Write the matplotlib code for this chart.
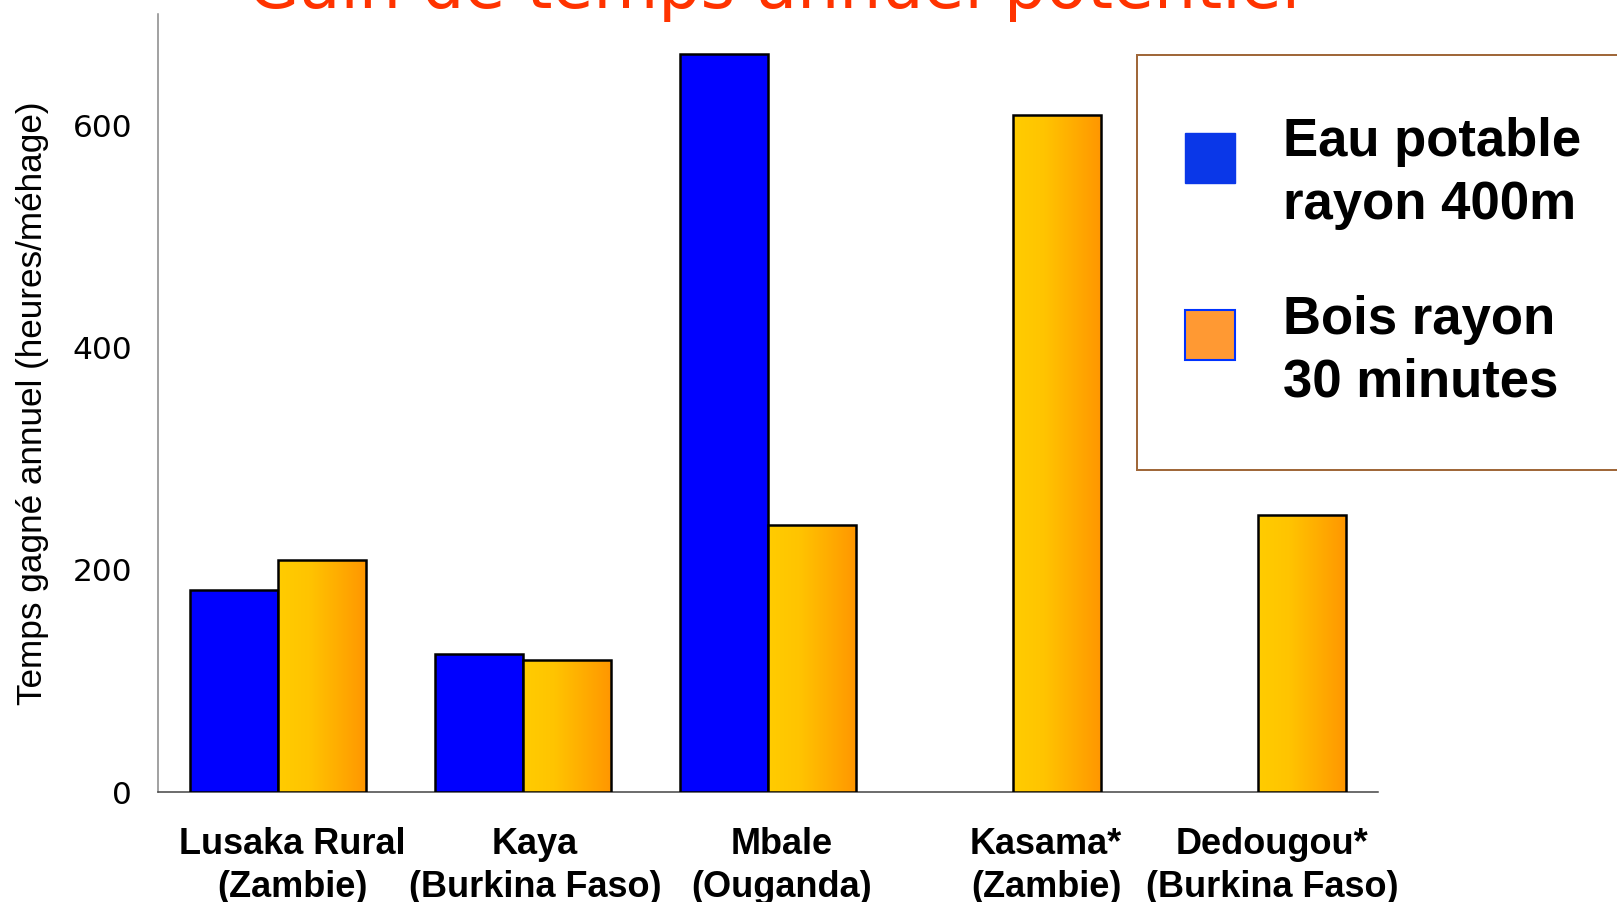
import numpy as np
import matplotlib
matplotlib.use("Agg")
import matplotlib.pyplot as plt
from matplotlib.patches import Patch, Rectangle
from matplotlib.legend_handler import HandlerPatch
from matplotlib.colors import LinearSegmentedColormap
import matplotlib.transforms as mtransforms

# ---------------- data ----------------
categories = ["Lusaka Rural\n(Zambie)", "Kaya\n(Burkina Faso)", "Mbale\n(Ouganda)",
              "Kasama*\n(Zambie)", "Dedougou*\n(Burkina Faso)"]
eau_potable = [182, 124, 664, np.nan, np.nan]
bois = [209, 119, 240, 609, 249]
series_labels = ["Eau potable\nrayon 400m", "Bois rayon\n30 minutes"]
yticks = [0, 200, 400, 600]
title = "Gain de temps annuel potentiel"
ylabel = "Temps gagné annuel (heures/méhage)"

# ---------------- figure ----------------
W, H, DPI = 1617, 902, 100
fig = plt.figure(figsize=(W / DPI, H / DPI), dpi=DPI)
fig.patch.set_facecolor("white")
ax = fig.add_axes([158 / W, 1 - 792 / H, (1378 - 158) / W, (792 - 14.4) / H])

x = np.arange(len(categories))
bw = 0.36
blue = "#0000FF"

eau = np.array(eau_potable, dtype=float)
mask = ~np.isnan(eau)
ax.bar(x[mask] - bw / 2, eau[mask], width=bw, color=blue, edgecolor="black",
       linewidth=1.8, zorder=3)

obars = ax.bar(x + bw / 2, bois, width=bw, facecolor="none", edgecolor="black",
               linewidth=1.8, zorder=4)

cmap = LinearSegmentedColormap.from_list(
    "grad", [(0.0, "#FFCC00"), (0.35, "#FFC400"), (1.0, "#FF9600")])
grad = np.linspace(0, 1, 256).reshape(1, -1)
for b in obars:
    x0, y0 = b.get_x(), b.get_y()
    im = ax.imshow(grad, cmap=cmap, aspect="auto", interpolation="bicubic",
                   extent=(x0, x0 + b.get_width(), y0, y0 + b.get_height()),
                   zorder=3.5)
    im.set_clip_path(b)

ax.set_xlim(-0.49, 4.49)
ax.set_ylim(0, 700)
ax.set_aspect("auto")

# spines
for s in ["top", "right"]:
    ax.spines[s].set_visible(False)
ax.spines["left"].set_color("#888888")
ax.spines["left"].set_linewidth(1.1)
ax.spines["bottom"].set_color("#444444")
ax.spines["bottom"].set_linewidth(1.1)

# y ticks
ax.set_yticks(yticks)
ax.set_yticklabels([str(v) for v in yticks], fontsize=22.5,
                   fontfamily="DejaVu Sans", color="black")
ax.tick_params(axis="y", length=0, pad=18.7)

# x ticks
ax.set_xticks(x)
ax.set_xticklabels(categories, fontsize=26, fontweight="bold",
                   fontfamily="Liberation Sans", linespacing=1.3)
ax.tick_params(axis="x", length=0, pad=25)
label_shift_px = [14, 12, 14, 33, 14]
for lab, dx in zip(ax.get_xticklabels(), label_shift_px):
    off = mtransforms.ScaledTranslation(dx / DPI, 0, fig.dpi_scale_trans)
    lab.set_transform(lab.get_transform() + off)

# y label
ax.set_ylabel(ylabel, fontsize=25.3, fontfamily="Liberation Sans")
ax.yaxis.set_label_coords(-0.0893, 0.5)

# title (cut off at top as in the reference)
fig.text(774 / W, 1 - 8 / H, title, color="#FF3300", fontsize=48,
         fontfamily="DejaVu Sans", ha="center", va="baseline")

# legend
def square_patch(legend, orig_handle, xdescent, ydescent, width, height, fontsize):
    return Rectangle((-xdescent - 10.3, 7.5), 36, 36)

handles = [Patch(facecolor="#0A37E8", edgecolor="#0A37E8", linewidth=1),
           Patch(facecolor="#FF9933", edgecolor="#0033FF", linewidth=1.5)]
leg = ax.legend(handles, series_labels, loc="upper left",
                bbox_to_anchor=(1137.3 / W, 1 - 55 / H),
                bbox_transform=fig.transFigure, borderaxespad=0,
                prop={"family": "Liberation Sans", "weight": "bold", "size": 38},
                borderpad=1.18, handlelength=1.0, handleheight=0.7,
                handletextpad=0.587, labelspacing=1.22, fancybox=False,
                framealpha=1, edgecolor="#A0683A",
                handler_map={Patch: HandlerPatch(patch_func=square_patch)})
leg.get_frame().set_linewidth(1.44)
for t in leg.get_texts():
    t.set_linespacing(1.33)

fig.savefig("out.png", dpi=DPI)
